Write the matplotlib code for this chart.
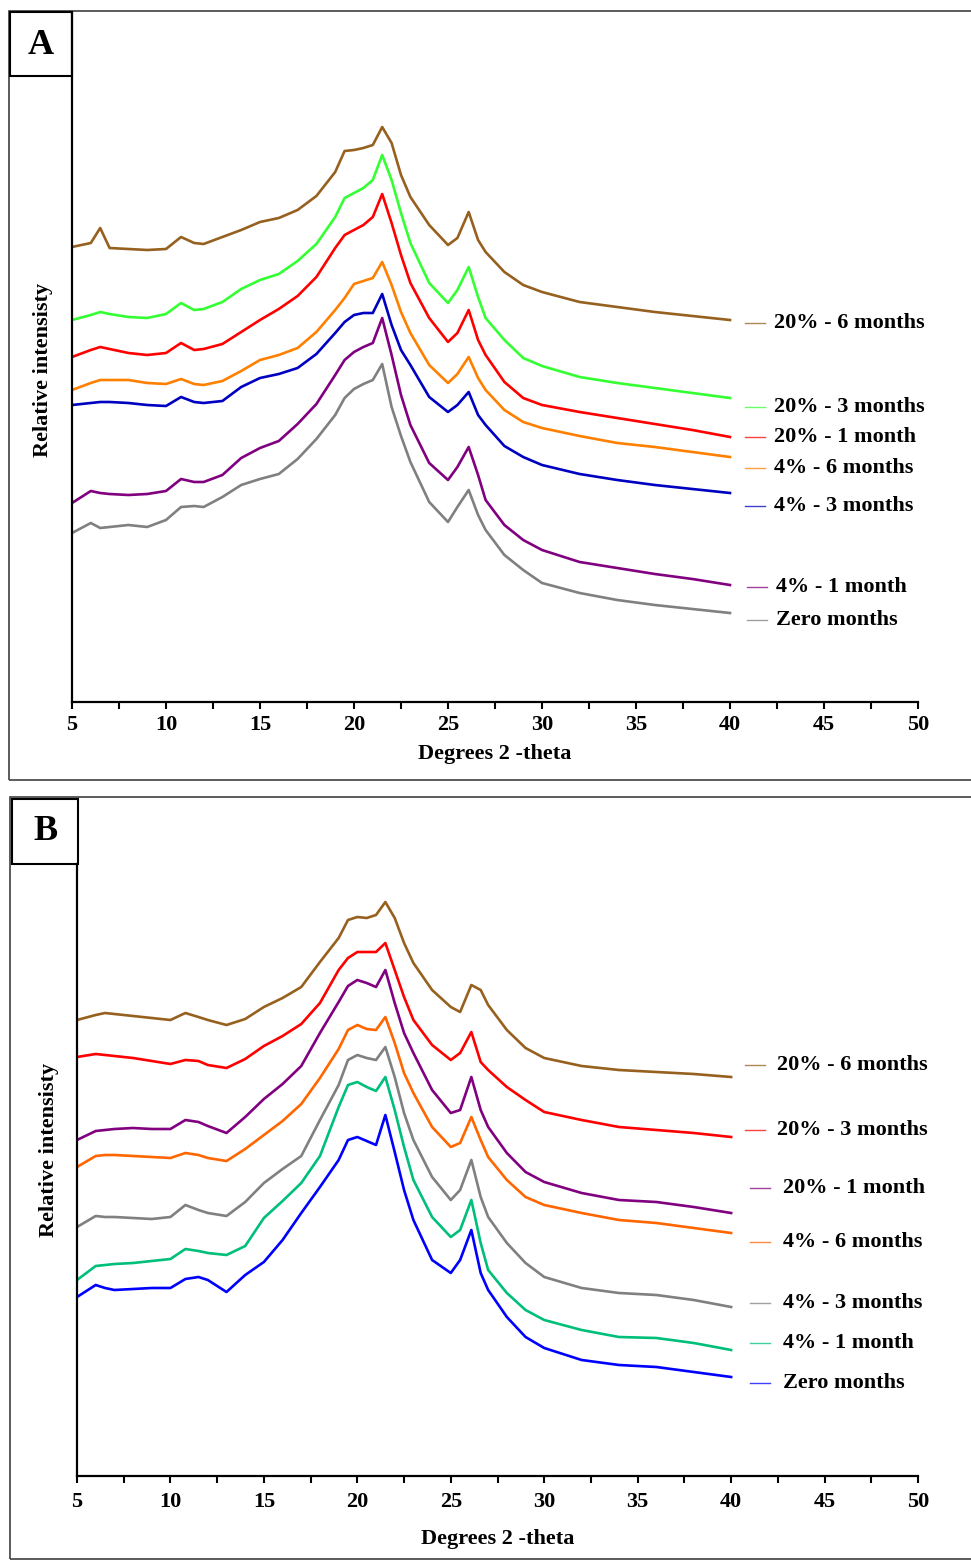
import numpy as np
import matplotlib
matplotlib.use('Agg')
import matplotlib.pyplot as plt
from matplotlib.patches import Rectangle

plt.rcParams['font.family'] = ['Liberation Serif', 'DejaVu Serif']
plt.rcParams['font.weight'] = 'bold'

# 2-theta positions (degrees) shared by every pattern
theta = [5, 6, 6.5, 7, 8, 9, 10, 10.8, 11.5, 12, 13, 14, 15, 16, 17, 18, 19, 19.5,
         20, 20.5, 21, 21.5, 22, 22.5, 23, 24, 25, 25.5, 26.1, 26.6, 27, 28, 29, 30,
         32, 34, 36, 38, 40]

# Panel A - stacked patterns (relative intensity, offset for display)
a_20_6m = [455, 459, 474, 454, 453, 452, 453, 465, 459, 458, 465, 472, 480, 484, 492, 506, 530, 551, 552, 554,
           557, 575, 559, 527, 505, 477, 457, 464, 490, 462, 450, 430, 417, 410, 400, 395, 390, 386, 382]
a_20_3m = [382, 387, 390, 388, 385, 384, 388, 399, 392, 393, 400, 413, 422, 428, 441, 458, 485, 504, 509, 514,
           522, 547, 522, 489, 459, 419, 399, 412, 435, 405, 384, 362, 344, 336, 325, 319, 314, 309, 304]
a_20_1m = [345, 352, 355, 353, 349, 347, 349, 359, 352, 353, 358, 370, 382, 393, 406, 425, 454, 467, 472, 477,
           485, 508, 479, 447, 419, 384, 360, 369, 392, 362, 347, 320, 304, 297, 290, 284, 278, 272, 265]
a_4_6m = [312, 319, 322, 322, 322, 319, 318, 323, 318, 317, 321, 331, 342, 347, 354, 370, 392, 404, 418, 421,
          424, 440, 417, 390, 369, 337, 319, 328, 345, 324, 312, 292, 280, 274, 266, 259, 255, 250, 245]
a_4_3m = [297, 299, 300, 300, 299, 297, 296, 305, 300, 299, 301, 315, 324, 328, 334, 348, 369, 380, 387, 389,
          389, 408, 377, 352, 337, 305, 290, 297, 310, 287, 277, 256, 245, 237, 228, 222, 217, 213, 209]
a_4_1m = [199, 211, 209, 208, 207, 208, 211, 223, 220, 220, 227, 244, 254, 261, 278, 298, 327, 342, 350, 355,
          359, 384, 347, 307, 277, 239, 222, 235, 255, 227, 202, 177, 162, 152, 140, 134, 128, 123, 117]
a_zero = [169, 179, 174, 175, 177, 175, 182, 195, 196, 195, 205, 217, 223, 228, 243, 263, 287, 304, 313, 318,
          322, 338, 295, 266, 240, 200, 180, 195, 212, 187, 172, 147, 132, 119, 109, 102, 97, 93, 89]

# Panel B
b_20_6m = [456, 461, 463, 462, 460, 458, 456, 463, 459, 456, 451, 457, 469, 478, 489, 514, 538, 556, 559, 558,
           561, 574, 558, 533, 513, 486, 469, 464, 491, 486, 471, 446, 428, 418, 410, 406, 404, 402, 399]
b_20_3m = [419, 422, 421, 420, 418, 415, 412, 416, 415, 411, 408, 417, 430, 440, 452, 473, 506, 518, 524, 524,
           524, 533, 506, 479, 456, 431, 416, 423, 444, 414, 406, 389, 376, 364, 356, 349, 346, 343, 339]
b_20_1m = [336, 345, 346, 347, 348, 347, 347, 356, 354, 350, 343, 359, 377, 392, 410, 443, 474, 490, 496, 493,
           489, 506, 473, 443, 423, 386, 363, 366, 399, 366, 349, 323, 304, 294, 283, 276, 274, 269, 263]
b_4_6m = [309, 320, 321, 321, 320, 319, 318, 323, 321, 318, 315, 327, 341, 355, 372, 398, 427, 446, 451, 447,
          446, 459, 433, 403, 383, 349, 329, 333, 359, 336, 319, 296, 279, 271, 263, 256, 253, 248, 243]
b_4_3m = [249, 260, 259, 259, 258, 257, 259, 271, 266, 263, 260, 274, 293, 307, 320, 356, 391, 416, 421, 418,
          416, 429, 399, 363, 336, 299, 276, 286, 316, 279, 259, 233, 213, 199, 188, 183, 181, 176, 169]
b_4_1m = [196, 210, 211, 212, 213, 215, 217, 227, 225, 223, 221, 230, 258, 275, 293, 320, 369, 391, 394, 389,
          385, 399, 366, 329, 296, 259, 239, 246, 276, 233, 206, 183, 166, 156, 146, 139, 138, 133, 126]
b_zero = [179, 191, 188, 186, 187, 188, 188, 197, 199, 196, 184, 201, 214, 236, 263, 289, 316, 336, 339, 335,
          331, 361, 324, 286, 256, 216, 203, 216, 246, 203, 186, 159, 139, 128, 116, 111, 109, 104, 99]

a_labels = ['20% - 6 months', '20% - 3 months', '20% - 1 month', '4% - 6 months',
            '4% - 3 months', '4% - 1 month', 'Zero months']
a_colors = ['#96601f', '#33ff33', '#ff0000', '#ff8000', '#0000c0', '#800080', '#808080']
a_label_y = [379, 295, 265, 234, 196, 115, 82]

b_labels = ['20% - 6 months', '20% - 3 months', '20% - 1 month', '4% - 6 months',
            '4% - 3 months', '4% - 1 month', 'Zero months']
b_colors = ['#96601f', '#ff0000', '#800080', '#ff6600', '#808080', '#00bf7a', '#0000ff']
b_label_y = [411, 346, 288, 234, 173, 133, 93]

W, H = 971, 1560
fig = plt.figure(figsize=(W / 100, H / 100), dpi=100)


def box(x0, y0, x1, y1, lw, color):
    # rectangle given in pixel coordinates from the top-left corner
    fig.add_artist(Rectangle((x0 / W, 1 - y1 / H), (x1 - x0) / W, (y1 - y0) / H,
                             transform=fig.transFigure, fill=False, lw=lw, edgecolor=color))


def draw_panel(rect, ymax, series, colors, labels, label_y, line_x, text_x, pad):
    ax = fig.add_axes(rect)
    for y, c in zip(series, colors):
        ax.plot(theta, y, color=c, lw=1.9, solid_joinstyle='round')
    for lab, c, ly, lx, tx in zip(labels, colors, label_y, line_x, text_x):
        ax.plot(lx, [ly, ly], color=c, lw=1.0, alpha=0.75)
        ax.text(tx, ly, lab, fontsize=16, fontweight='bold', va='center', ha='left')
    ax.set_xlim(5, 50)
    ax.set_ylim(0, ymax)
    ax.set_xticks(range(5, 51, 5))
    ax.set_xticks(np.arange(7.5, 50, 5), minor=True)
    ax.set_yticks([])
    ax.tick_params(axis='x', which='both', direction='out', length=5, width=1.5,
                   labelsize=16, pad=pad)
    for t in ax.get_xticklabels():
        t.set_fontweight('bold')
    for s in ['top', 'right']:
        ax.spines[s].set_visible(False)
    for s in ['left', 'bottom']:
        ax.spines[s].set_linewidth(1.6)
    ax.set_xlabel('Degrees 2 -theta', fontsize=16, fontweight='bold')
    ax.set_ylabel('Relative intensisty', fontsize=16, fontweight='bold')
    return ax


# Panel A
ax_a = draw_panel([72 / W, 1 - 702 / H, 846 / W, 690 / H], 690,
                  [a_20_6m, a_20_3m, a_20_1m, a_4_6m, a_4_3m, a_4_1m, a_zero],
                  a_colors, a_labels, a_label_y,
                  [[40.8, 41.85]] * 5 + [[40.9, 41.95]] * 2,
                  [42.35] * 5 + [42.45] * 2, 4.5)
ax_a.xaxis.set_label_coords(0.5, -0.061)
ax_a.yaxis.set_label_coords(-0.0225, 0.481)

# Panel B
ax_b = draw_panel([77 / W, 1 - 1476 / H, 841 / W, 612 / H], 612,
                  [b_20_6m, b_20_3m, b_20_1m, b_4_6m, b_4_3m, b_4_1m, b_zero],
                  b_colors, b_labels, b_label_y,
                  [[40.75, 41.8]] * 2 + [[41.0, 42.1]] * 5,
                  [42.45] * 2 + [42.8] * 5, 6.5)
ax_b.xaxis.set_label_coords(0.5, -0.087)
ax_b.yaxis.set_label_coords(-0.0214, 0.533)

# panel frames and letter boxes
box(9, 11, 990, 780, 1.2, '#404040')
box(10, 12, 72, 76, 1.5, 'black')
fig.text(41 / W, 1 - 45 / H, 'A', fontsize=26, fontweight='bold', ha='center', va='center')

box(10, 797, 990, 1559, 1.2, '#404040')
box(12, 799, 78, 864, 1.5, 'black')
fig.text(45 / W, 1 - 832 / H, 'B', fontsize=26, fontweight='bold', ha='center', va='center')

fig.savefig('out.png', dpi=100)
